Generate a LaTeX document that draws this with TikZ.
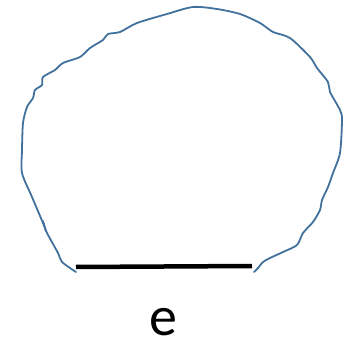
\documentclass[tikz,border=0pt]{standalone}
\usepackage{fontspec}
\setmainfont{Carlito}
\usepackage{xcolor}
\usetikzlibrary{positioning,calc}

\definecolor{inkblue}{RGB}{65,113,156}

\begin{document}
\begin{tikzpicture}[
  x=1pt, y=-1pt,
  sketch/.style={draw=inkblue, line width=1.8pt, line cap=round, line join=round},
  edgeline/.style={draw=black, line width=4.5pt},
  edgelabel/.style={font=\fontsize{56}{58}\selectfont, inner sep=0pt},
]
\useasboundingbox (0,0) rectangle (354,342);

% end points of the edge
\coordinate (eL) at (76,267);
\coordinate (eR) at (252,266);

% hand-drawn loop
\draw[sketch] plot[smooth, tension=0.45] coordinates {
  (76,272) (62,262) (58,253) (47,233) (43,223) (32,197) (22,173)
  (22,150) (23,123) (27,107) (33,98) (35,90) (42,85) (43,77)
  (55,70) (63,63) (80,57) (90,48) (103,40) (108,34) (120,32)
  (137,23) (167,14) (193,7) (217,9) (240,14) (260,23) (273,32)
  (290,38) (310,57) (317,68) (328,82) (330,92) (340,110) (342,120)
  (340,153) (333,173) (328,187) (322,200) (320,210) (313,222)
  (303,233) (297,245) (283,252) (270,258) (263,262) (258,268) (254,272)};
\draw[sketch] (43,221) -- (46,231);

% the edge and its label
\draw[edgeline] (eL) -- (eR);
\node[edgelabel, anchor=base] (elab) at (163,336) {e};

\end{tikzpicture}
\end{document}
